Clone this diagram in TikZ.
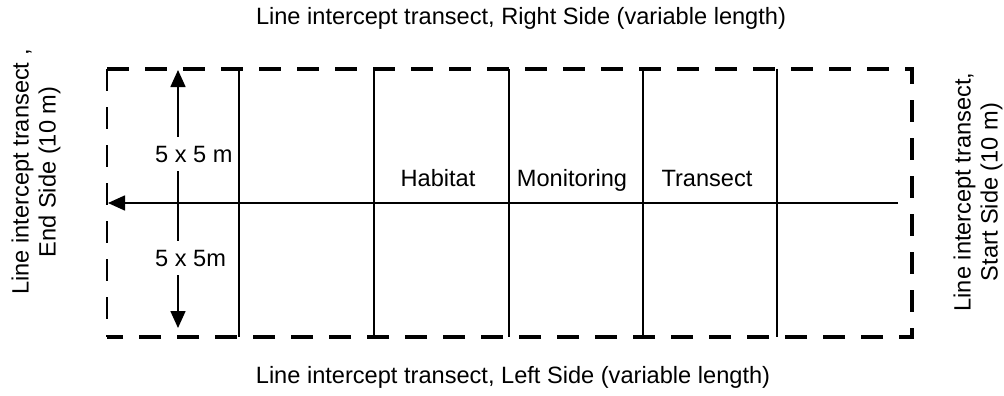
\documentclass[tikz,border=0pt]{standalone}
\usepackage{fontspec}
\setmainfont{Liberation Sans}
\usetikzlibrary{arrows.meta}
\tikzset{
  border/.style={line width=4.5pt,dash pattern=on 22pt off 16pt},
  thinborder/.style={line width=2.5pt,dash pattern=on 22pt off 16pt},
  divider/.style={line width=1.6pt},
  lbl/.style={font=\fontsize{23.6}{27}\selectfont,inner sep=0pt}
}
\begin{document}
\begin{tikzpicture}[x=1pt,y=-1pt,>={Triangle[length=17pt,width=15pt]}]
\useasboundingbox (0,0) rectangle (1004,396);
\coordinate (TL) at (107,69);
\coordinate (TR) at (912,69);
\coordinate (BR) at (912,337);
\coordinate (BL) at (107,337);
% plot sections
\foreach \x [count=\i] in {239,374,509,643,777} {
  \coordinate (D\i top) at (\x,69);
  \coordinate (D\i bot) at (\x,337);
  \draw[divider] (D\i top) -- (D\i bot);
}
\draw[border] (TL) -- (TR) -- (BR) -- (BL);
\draw[thinborder] (TL) -- (BL);
% transect line
\coordinate (start) at (898,203);
\coordinate (end) at (108,203);
\draw[->,divider] (start) -- (end);
\coordinate (up) at (178,70);
\coordinate (down) at (178,328);
\draw[<->,divider] (up) -- (down);
\node[lbl,fill=white,anchor=west,inner xsep=2pt,inner ysep=9pt] (quadA) at (153,154) {5 x 5 m};
\node[lbl,fill=white,anchor=west,inner xsep=2pt,inner ysep=9pt] (quadB) at (153,258) {5 x 5m};
\node[lbl,anchor=base] (hab) at (438,186) {Habitat};
\node[lbl,anchor=base] (mon) at (572,186) {Monitoring};
\node[lbl,anchor=base] (tra) at (707,186) {Transect};
% sides
\node[lbl,anchor=base] (right) at (521,25) {Line intercept transect, Right Side (variable length)};
\node[lbl,anchor=base] (left) at (513,383) {Line intercept transect, Left Side (variable length)};
\node[lbl,rotate=90,align=center] (endside) at (36,172) {Line intercept transect ,\\End Side (10 m)};
\node[lbl,rotate=90,align=center] (startside) at (978,192) {Line intercept transect,\\Start Side (10 m)};
\end{tikzpicture}
\end{document}
